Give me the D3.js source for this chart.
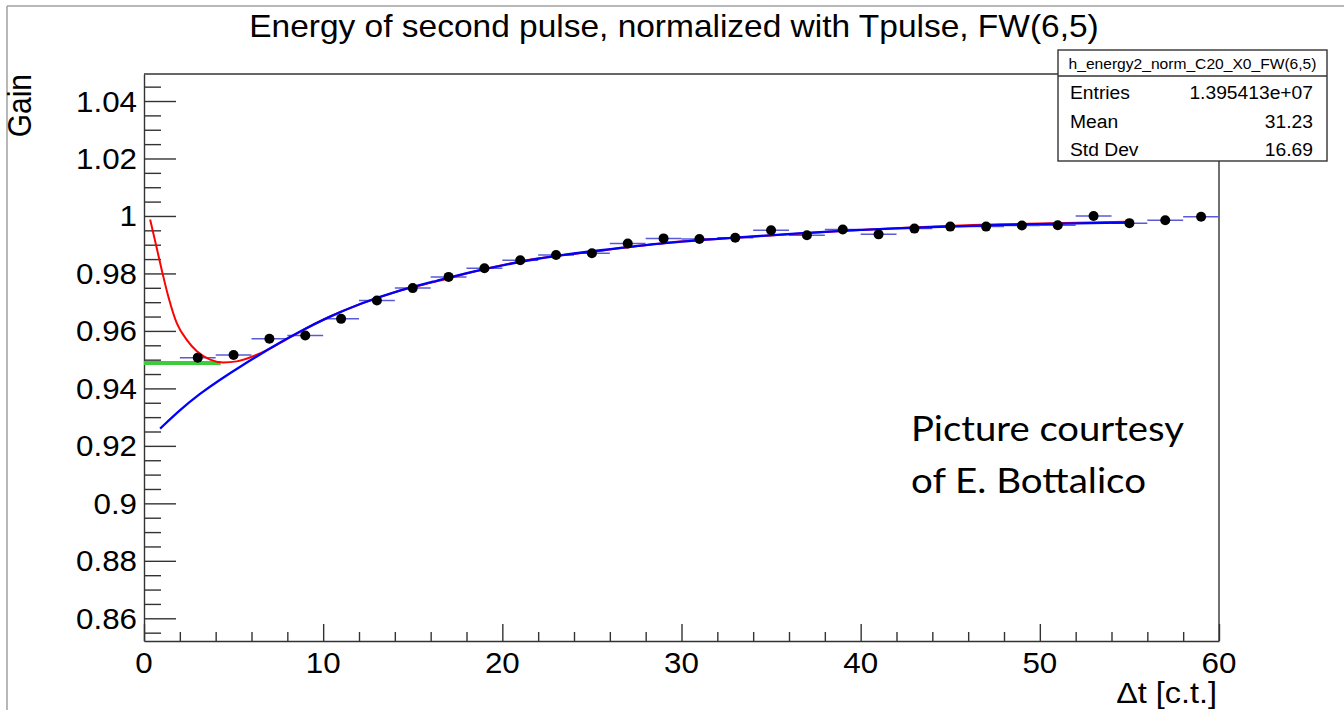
<!DOCTYPE html>
<html>
<head>
<meta charset="utf-8">
<script src="https://cdn.jsdelivr.net/npm/d3@7"></script>
<style>
  html, body { margin: 0; padding: 0; background: #fff; }
  svg { display: block; }
  text { font-family: "Liberation Sans", Arial, Helvetica, sans-serif; fill: #000; }
</style>
</head>
<body>
<svg id="chart" width="1344" height="710"></svg>
<script>
// ---------------- data ----------------
const titleText = "Energy of second pulse, normalized with Tpulse, FW(6,5)";
const xTitle = "\u0394t [c.t.]";
const yTitle = "Gain";

const binCenters = [3, 5, 7, 9, 11, 13, 15, 17, 19, 21, 23, 25, 27, 29, 31, 33, 35, 37, 39, 41, 43, 45, 47, 49, 51, 53, 55, 57, 59];
const gainValues = [0.9507, 0.9516, 0.9573, 0.9584, 0.9642, 0.9706, 0.9749, 0.9788, 0.9818, 0.9846,
                    0.9864, 0.9870, 0.9904, 0.9922, 0.9920, 0.9924, 0.9950, 0.9933, 0.9953, 0.9936,
                    0.9956, 0.9963, 0.9963, 0.9967, 0.9968, 1.0000, 0.9975, 0.9985, 0.9997];
const binHalfWidth = 1;

// blue fit curve
const blueX = [0.9, 2.0, 3.1, 4.25, 5.4, 6.5, 7.6, 8.7, 10.2, 12.1, 14.0, 16.5, 18.0, 21.75, 25.5, 29.2, 33.0, 36.7, 39.4, 42.2, 47.8, 54.8];
const blueY = [0.9260, 0.9325, 0.9381, 0.9431, 0.9477, 0.9519, 0.9560, 0.9598, 0.9646, 0.9696, 0.9737, 0.9777, 0.9802, 0.9852, 0.9881, 0.9908, 0.9925, 0.9940, 0.9950, 0.9958, 0.9970, 0.9977];

// red fit curve
const redX = [0.34, 0.61, 0.99, 1.36, 1.83, 2.39, 2.95, 3.69, 4.43, 5.18, 6.3, 7.6, 8.7, 10.2, 12.1, 14.0, 16.5, 18.0, 21.75, 25.5, 29.2, 33.0, 36.7, 39.4, 42.2, 47.8, 54.8];
const redY = [0.9988, 0.9916, 0.9812, 0.9719, 0.9627, 0.9569, 0.9529, 0.9500, 0.9490, 0.9494, 0.9517, 0.9558, 0.9597, 0.9645, 0.9694, 0.9735, 0.9775, 0.9800, 0.9850, 0.9879, 0.9907, 0.9924, 0.9939, 0.9949, 0.9958, 0.9971, 0.9980];

// green horizontal line
const greenX = [0, 4.28];
const greenY = [0.9488, 0.9488];

// axis ticks
const xMajorTicks = [0, 10, 20, 30, 40, 50, 60];
const xMinorTicks = [2, 4, 6, 8, 12, 14, 16, 18, 22, 24, 26, 28, 32, 34, 36, 38, 42, 44, 46, 48, 52, 54, 56, 58];
const yMajorTicks = [0.86, 0.88, 0.90, 0.92, 0.94, 0.96, 0.98, 1.00, 1.02, 1.04];
const yMinorTicks = [0.855, 0.865, 0.87, 0.875, 0.885, 0.89, 0.895, 0.905, 0.91, 0.915, 0.925, 0.93, 0.935,
                     0.945, 0.95, 0.955, 0.965, 0.97, 0.975, 0.985, 0.99, 0.995, 1.005, 1.01, 1.015,
                     1.025, 1.03, 1.035, 1.045];
const yTickLabels = ["0.86", "0.88", "0.9", "0.92", "0.94", "0.96", "0.98", "1", "1.02", "1.04"];
const xTickLabels = ["0", "10", "20", "30", "40", "50", "60"];

// stats box
const statsTitle = "h_energy2_norm_C20_X0_FW(6,5)";
const statLabels = ["Entries", "Mean", "Std Dev"];
const statValues = ["1.395413e+07", "31.23", "16.69"];

const noteLines = ["Picture courtesy", "of E. Bottalico"];

// ---------------- drawing ----------------
const svg = d3.select("#chart");
const SX = 1.08; // horizontal stretch of the original picture's text

const frame = { left: 144, right: 1219, top: 74, bottom: 641 };
const x = d3.scaleLinear().domain([0, 60]).range([frame.left, frame.right]);
const y = d3.scaleLinear().domain([0.8521, 1.0494]).range([frame.bottom, frame.top]);

function txt(g, px, py, s, size, anchor, sx) {
  return g.append("text")
    .attr("transform", `translate(${px},${py}) scale(${sx === undefined ? SX : sx},1)`)
    .attr("text-anchor", anchor)
    .style("font-size", size + "px")
    .text(s);
}

// picture border (light gray)
svg.append("line").attr("x1", 7).attr("y1", 6).attr("x2", 1344).attr("y2", 6)
  .attr("stroke", "#a0a0a0").attr("stroke-width", 1.5);
svg.append("line").attr("x1", 7).attr("y1", 6).attr("x2", 7).attr("y2", 710)
  .attr("stroke", "#a0a0a0").attr("stroke-width", 1.5);

const axisColor = "#333";

// y axis
const gy = svg.append("g").attr("transform", `translate(${frame.left},0)`);
gy.call(d3.axisLeft(y).tickValues(yMajorTicks).tickSize(-32).tickSizeOuter(0).tickFormat(""));
const gyMinor = svg.append("g").attr("transform", `translate(${frame.left},0)`);
gyMinor.call(d3.axisLeft(y).tickValues(yMinorTicks).tickSize(-17).tickSizeOuter(0).tickFormat(""));
gyMinor.select(".domain").remove();

// x axis
const gx = svg.append("g").attr("transform", `translate(0,${frame.bottom})`);
gx.call(d3.axisBottom(x).tickValues(xMajorTicks).tickSize(-17).tickSizeOuter(0).tickFormat(""));
const gxMinor = svg.append("g").attr("transform", `translate(0,${frame.bottom})`);
gxMinor.call(d3.axisBottom(x).tickValues(xMinorTicks).tickSize(-9).tickSizeOuter(0).tickFormat(""));
gxMinor.select(".domain").remove();

svg.selectAll(".domain, .tick line").attr("stroke", axisColor).attr("stroke-width", 1.4);

// top and right frame lines
svg.append("line").attr("x1", frame.left).attr("y1", frame.top).attr("x2", frame.right).attr("y2", frame.top)
  .attr("stroke", axisColor).attr("stroke-width", 1.4);
svg.append("line").attr("x1", frame.right).attr("y1", frame.top).attr("x2", frame.right).attr("y2", frame.bottom)
  .attr("stroke", axisColor).attr("stroke-width", 1.4);

// tick labels
const labG = svg.append("g");
yMajorTicks.forEach((v, i) => txt(labG, 137, y(v) + 10.5, yTickLabels[i], 29, "end"));
xMajorTicks.forEach((v, i) => txt(labG, x(v), 673, xTickLabels[i], 29, "middle"));

// axis titles
txt(svg, 1217, 703, xTitle, 30, "end");
svg.append("text")
  .attr("transform", `translate(31,74) rotate(-90) scale(1,${SX})`)
  .attr("text-anchor", "end")
  .style("font-size", "30px")
  .text(yTitle);

// title
txt(svg, 674, 37, titleText, 31, "middle");

// green line
const lineGen = d3.line().x(d => x(d[0])).y(d => y(d[1]));
svg.append("path")
  .datum(greenX.map((v, i) => [v, greenY[i]]))
  .attr("d", lineGen)
  .attr("fill", "none").attr("stroke", "#3ccc3c").attr("stroke-width", 4);

// error bars (x)
const eb = svg.append("g");
binCenters.forEach((c, i) => {
  eb.append("line")
    .attr("x1", x(c - binHalfWidth)).attr("x2", x(c + binHalfWidth))
    .attr("y1", y(gainValues[i])).attr("y2", y(gainValues[i]))
    .attr("stroke", "#5a5ad6").attr("stroke-width", 1.5);
});

// red curve
const redGen = d3.line().x(d => x(d[0])).y(d => y(d[1])).curve(d3.curveMonotoneX);
svg.append("path")
  .datum(redX.map((v, i) => [v, redY[i]]))
  .attr("d", redGen)
  .attr("fill", "none").attr("stroke", "#ff0000").attr("stroke-width", 2);

// blue curve
const blueGen = d3.line().x(d => x(d[0])).y(d => y(d[1])).curve(d3.curveBasis);
svg.append("path")
  .datum(blueX.map((v, i) => [v, blueY[i]]))
  .attr("d", blueGen)
  .attr("fill", "none").attr("stroke", "#0000ff").attr("stroke-width", 2.3);

// markers
svg.append("g").selectAll("circle")
  .data(binCenters.map((c, i) => [c, gainValues[i]]))
  .join("circle")
  .attr("cx", d => x(d[0])).attr("cy", d => y(d[1]))
  .attr("r", 5).attr("fill", "#000");

// stats box
const box = { x: 1058, y: 50, w: 269, h: 111 };
svg.append("rect").attr("x", box.x).attr("y", box.y).attr("width", box.w).attr("height", box.h)
  .attr("fill", "#fff").attr("stroke", axisColor).attr("stroke-width", 1.4);
svg.append("line").attr("x1", box.x).attr("x2", box.x + box.w).attr("y1", 76).attr("y2", 76)
  .attr("stroke", axisColor).attr("stroke-width", 1.4);
txt(svg, box.x + box.w / 2, 69, statsTitle, 15, "middle", 1.04);
statLabels.forEach((s, i) => {
  txt(svg, 1070, 99 + i * 28.5, s, 18, "start", 1.07);
  txt(svg, 1313, 99 + i * 28.5, statValues[i], 18, "end", 1.07);
});

// annotation
const noteW = [273, 235];
noteLines.forEach((s, i) => {
  svg.append("text")
    .attr("x", 911).attr("y", 441 + i * 52)
    .attr("textLength", noteW[i]).attr("lengthAdjust", "spacingAndGlyphs")
    .style("font-family", "Lato, 'Open Sans', sans-serif")
    .style("font-size", "34px")
    .text(s);
});
</script>
</body>
</html>
